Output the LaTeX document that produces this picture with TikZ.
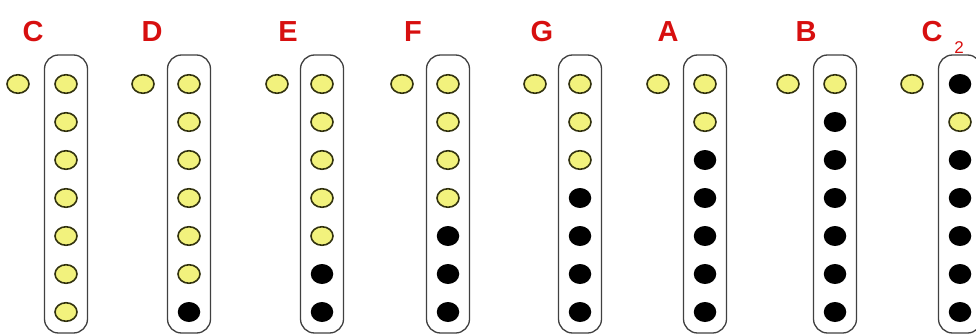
\documentclass[tikz,border=0pt]{standalone}
\usepackage{fontspec}
\setmainfont{Liberation Sans}
\usetikzlibrary{shapes.geometric}
\definecolor{holefill}{RGB}{242,242,125}
\definecolor{holeline}{RGB}{50,50,15}
\definecolor{labred}{RGB}{215,15,15}
\begin{document}
\begin{tikzpicture}[x=1pt,y=-1pt,
  openhole/.style={ellipse, draw=holeline, fill=holefill, line width=1.6pt, minimum width=22pt, minimum height=18.5pt, inner sep=0pt},
  closedhole/.style={ellipse, fill=black, minimum width=22.5pt, minimum height=20pt, inner sep=0pt},
  pipebody/.style={draw=black!75, line width=1.3pt, rounded corners=14pt, minimum width=43pt, minimum height=278pt, inner sep=0pt},
  notelabel/.style={text=labred, font=\bfseries\fontsize{29}{29}\selectfont, inner sep=0pt}]
\useasboundingbox (0,0) rectangle (976,334);
\foreach \nm/\lx/\tx/\hx/\pat [count=\c] in {
  C/33/18/66/{0,0,0,0,0,0,0},
  D/152/143/189/{0,0,0,0,0,0,1},
  E/288/277/322/{0,0,0,0,0,1,1},
  F/413/402/448/{0,0,0,0,1,1,1},
  G/542/535/580/{0,0,0,1,1,1,1},
  A/668/658/705/{0,0,1,1,1,1,1},
  B/806/788/835/{0,1,1,1,1,1,1},
  C/932/912/960/{1,0,1,1,1,1,1}}
{
  \node[notelabel] (lab\c) at (\lx,32) {\nm};
  \node[pipebody] (body\c) at (\hx,194) {};
  \node[openhole] (thumb\c) at (\tx,84) {};
  \foreach \s [count=\i] in \pat {
    \ifnum\s=1
      \node[closedhole] (h\c-\i) at (\hx,{84+38*(\i-1)}) {};
    \else
      \node[openhole] (h\c-\i) at (\hx,{84+38*(\i-1)}) {};
    \fi
  }
}
\node[text=labred, font=\fontsize{17}{17}\selectfont, inner sep=0pt] (sub2) at (959,48) {2};
\end{tikzpicture}
\end{document}
